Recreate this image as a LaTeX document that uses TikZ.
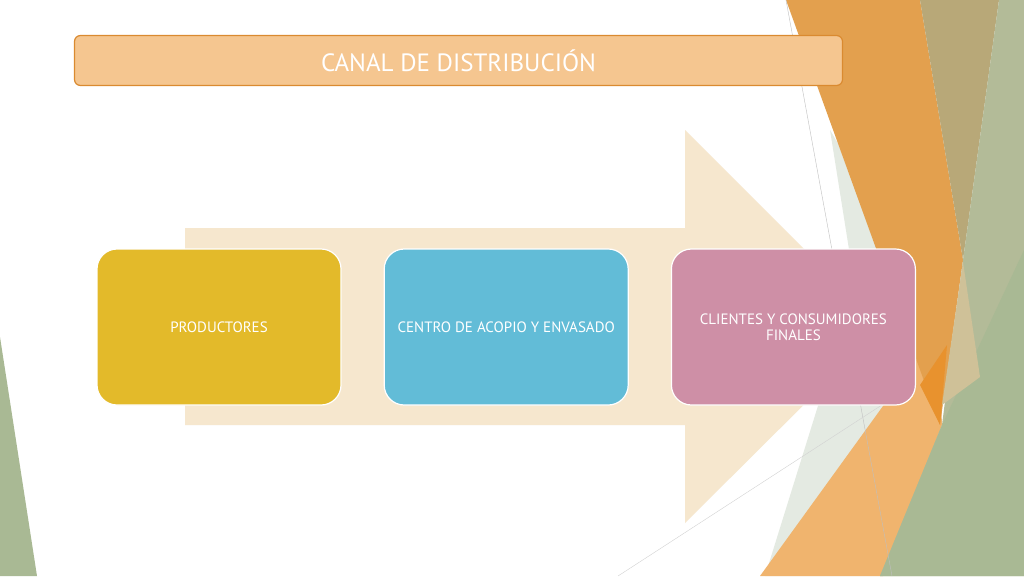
\documentclass[tikz,border=0pt]{standalone}
\usepackage{fontspec}
\setmainfont{PT Sans}
\usetikzlibrary{positioning,shapes}
\definecolor{tituloFondo}{HTML}{F5C690}
\definecolor{tituloBorde}{HTML}{DA8A30}
\definecolor{flecha}{HTML}{F6E7CE}
\definecolor{amarillo}{HTML}{E3BA2A}
\definecolor{celeste}{HTML}{62BCD7}
\definecolor{rosa}{HTML}{CE8FA6}
\definecolor{naranja}{HTML}{E3A04E}
\definecolor{naranjaOscuro}{HTML}{E8922E}
\definecolor{naranjaClaro}{HTML}{F0B46E}
\definecolor{caqui}{HTML}{B8A878}
\definecolor{verde}{HTML}{A9B994}
\definecolor{verdeClaro}{HTML}{B3BB98}
\definecolor{arena}{HTML}{CFC198}
\definecolor{palido}{HTML}{E4EAE2}
\tikzstyle{titulo}=[draw=tituloBorde,fill=tituloFondo,line width=1.2pt,rounded corners=6pt,
                minimum width=768pt,minimum height=50pt,text=white,font=\fontsize{25}{28}\selectfont]
\tikzstyle{paso}=[draw=white,line width=1.2pt,rounded corners=20pt,minimum width=244pt,
                minimum height=156pt,text=white,align=center,font=\fontsize{15}{16}\selectfont]
\tikzstyle{linea}=[line width=0.4pt]

\begin{document}
\begin{tikzpicture}[x=1pt,y=-1pt]
  % fondo
  \fill[white] (0,0) rectangle (1024,576);
  \useasboundingbox (0,0) rectangle (1024,576);
  \fill[palido] (830,130) -- (855,287) -- (765,576) -- (900,576) -- (930,300) -- cycle;
  \fill[naranjaClaro] (760,576) -- (938,330) -- (942,425) -- (883,576) -- cycle;
  \fill[naranja] (786,0) -- (920,0) -- (963,260) -- (940,425) -- cycle;
  \fill[caqui] (920,0) -- (999,0) -- (963,260) -- cycle;
  \fill[naranjaOscuro] (920,385) -- (947,345) -- (940,425) -- cycle;
  \fill[verdeClaro] (999,0) -- (1024,0) -- (1024,576) -- (880,576) -- (942,425) -- (963,260) -- cycle;
  \fill[verde] (1024,250) -- (1024,576) -- (880,576) -- (942,425) -- cycle;
  \fill[arena] (963,262) -- (980,377) -- (942,405) -- cycle;
  \fill[verde] (0,337) -- (37,576) -- (0,576) -- cycle;
  \draw[linea,gray!50] (786,0) -- (892,576);
  \draw[linea,gray!35] (618,576) -- (905,390);
  % flecha
  \fill[flecha] (185,228) -- (685,228) -- (685,130) -- (882,327) -- (685,523)
        -- (685,425) -- (185,425) -- cycle;
  % nodos
  \node[titulo] (tit) at (458.5,60.5) {CANAL DE DISTRIBUCIÓN};
  \node[paso,fill=amarillo] (prod) at (219,327) {PRODUCTORES};
  \node[paso,fill=celeste,right=42pt of prod] (acopio) {CENTRO DE ACOPIO Y ENVASADO};
  \node[paso,fill=rosa,right=42pt of acopio] (clientes) {CLIENTES Y CONSUMIDORES\\FINALES};
\end{tikzpicture}
\end{document}
